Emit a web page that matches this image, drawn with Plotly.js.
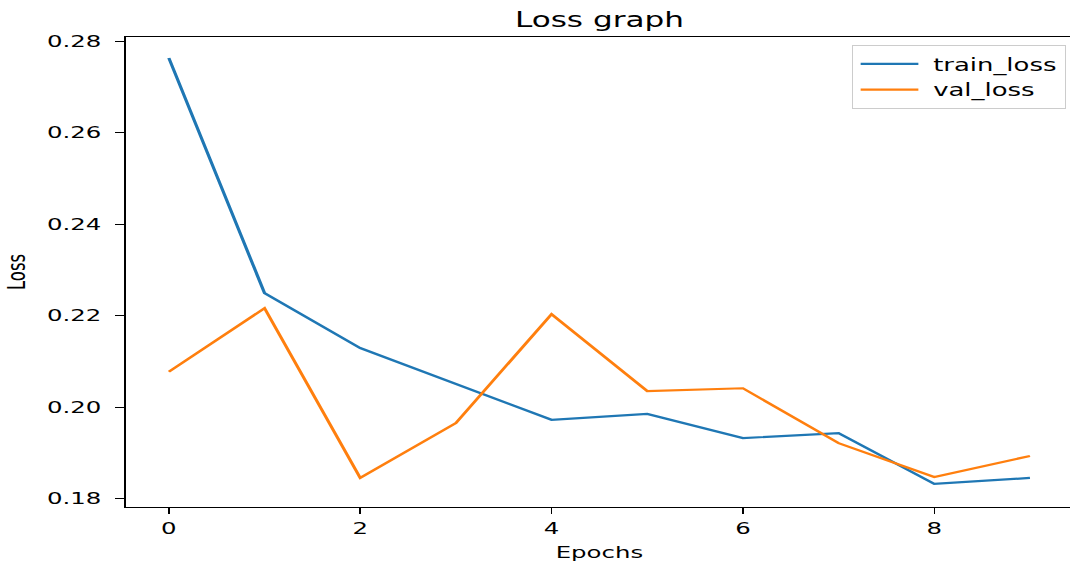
<!DOCTYPE html>
<html>
<head>
<meta charset="utf-8">
<script src="https://cdn.plot.ly/plotly-3.0.1.min.js"></script>
<style>
  html, body { margin: 0; padding: 0; overflow: hidden; background: #fff; }
  #wrap { width: 1070px; height: 564px; overflow: hidden; position: relative; }
  #chart { width: 730px; height: 564px; transform: scaleX(1.48); transform-origin: 0 0; }
</style>
</head>
<body>
<div id="wrap"><div id="chart"></div></div>
<script>
const epochs = [0, 1, 2, 3, 4, 5, 6, 7, 8, 9];
const trainLoss = [0.2763, 0.2249, 0.2129, 0.2050, 0.1972, 0.1985, 0.1932, 0.1943, 0.1832, 0.1845];
const valLoss   = [0.2077, 0.2216, 0.1845, 0.1965, 0.2203, 0.2035, 0.2041, 0.1921, 0.1847, 0.1893];
const seriesNames = ['train_loss', 'val_loss'];
const chartTitle = 'Loss graph';
const xTitle = 'Epochs';
const yTitle = 'Loss';

const font = { family: 'DejaVu Sans, sans-serif', size: 16.5, color: '#000' };

const traces = [
  { x: epochs, y: trainLoss, name: seriesNames[0], type: 'scatter', mode: 'lines',
    line: { color: '#1f77b4', width: 2.2 } },
  { x: epochs, y: valLoss, name: seriesNames[1], type: 'scatter', mode: 'lines',
    line: { color: '#ff7f0e', width: 2.2 } }
];

const layout = {
  width: 730, height: 564,
  margin: { l: 85, r: 5, t: 37, b: 57 },
  paper_bgcolor: '#fff', plot_bgcolor: '#fff',
  font: font,
  title: { text: chartTitle, font: { family: font.family, size: 21, color: '#000' },
           x: (85 + 320) / 730, xanchor: 'center', yref: 'container', y: 1 - 20 / 564, yanchor: 'middle' },
  showlegend: true,
  legend: {
    x: 0.993, xanchor: 'right', y: 0.983, yanchor: 'top',
    bordercolor: '#cccccc', borderwidth: 1, bgcolor: 'rgba(255,255,255,0.8)',
    itemwidth: 44, tracegroupgap: 0,
    font: { family: font.family, size: 17.5, color: '#000' }
  },
  xaxis: {
    range: [-0.45, 9.45], tickmode: 'linear', tick0: 0, dtick: 2,
    showgrid: false, zeroline: false,
    showline: true, mirror: true, linecolor: '#000', linewidth: 1.2,
    ticks: 'outside', ticklen: 6, tickwidth: 1, tickcolor: '#000',
    title: { text: xTitle, font: { family: font.family, size: 16.5, color: '#000' }, standoff: 9 }
  },
  yaxis: {
    range: [0.17814, 0.2809], tickmode: 'linear', tick0: 0.18, dtick: 0.02, tickformat: '.2f',
    showgrid: false, zeroline: false,
    showline: true, mirror: true, linecolor: '#000', linewidth: 1.2,
    ticks: 'outside', ticklen: 6, tickwidth: 1, tickcolor: '#000', ticklabelstandoff: 6,
    title: { text: yTitle, font: { family: font.family, size: 16.5, color: '#000' }, standoff: 10 }
  }
};

Plotly.newPlot('chart', traces, layout, { displayModeBar: false, staticPlot: true }).then(function (gd) {
  // lengthen the legend line samples to match the reference's longer handles
  gd.querySelectorAll('.legend .legendlines path').forEach(function (p) {
    p.setAttribute('d', 'M5,0h39');
  });
});
</script>
</body>
</html>
